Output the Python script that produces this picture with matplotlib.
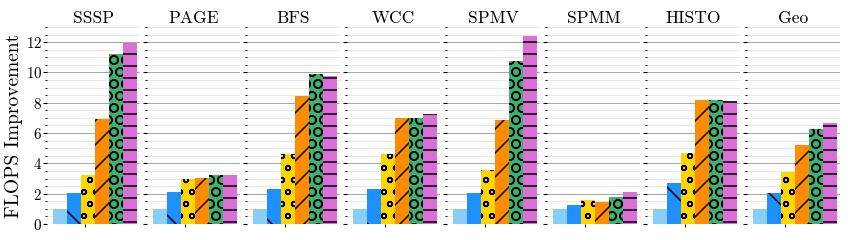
import matplotlib

matplotlib.use("Agg")

import matplotlib.pyplot as plt  # noqa: E402
import numpy as np  # noqa: E402
from matplotlib.ticker import MultipleLocator  # noqa: E402

plt.rcParams["font.family"] = "serif"
plt.rcParams["font.serif"] = ["cmr10", "DejaVu Serif"]
plt.rcParams["mathtext.fontset"] = "cm"
plt.rcParams["axes.formatter.use_mathtext"] = True
plt.rcParams["hatch.linewidth"] = 0.75

# ---------------------------------------------------------------- data
workloads = ["SSSP", "PAGE", "BFS", "WCC", "SPMV", "SPMM", "HISTO", "Geo"]
# six configurations per workload (left to right)
cfg0 = [1.00, 1.00, 1.00, 1.00, 1.00, 1.00, 1.00, 1.00]
cfg1 = [2.03, 2.10, 2.34, 2.30, 2.03, 1.24, 2.72, 2.06]
cfg2 = [3.23, 2.98, 4.64, 4.62, 3.56, 1.57, 4.71, 3.43]
cfg3 = [6.94, 3.03, 8.47, 7.01, 6.88, 1.46, 8.16, 5.19]
cfg4 = [11.25, 3.25, 9.88, 7.01, 10.74, 1.79, 8.16, 6.30]
cfg5 = [11.96, 3.23, 9.77, 7.27, 12.42, 2.12, 8.11, 6.68]
series = [cfg0, cfg1, cfg2, cfg3, cfg4, cfg5]

colors = ["#87CEFA", "#1E90FF", "#FFD700", "#FF8C00", "#3CB371", "#DA70D6"]
hatches = ["", "\\", "oo", "//", "OO", "--"]

# ---------------------------------------------------------------- figure
# dpi 144: hatch cell is 144 px, which gives the sparse hatching of the original
DPI = 144
fig, axes = plt.subplots(1, len(workloads), figsize=(848 / DPI, 240 / DPI),
                         dpi=DPI, sharey=True)
fig.subplots_adjust(left=0.0554, right=0.9906, bottom=0.0667, top=0.8875,
                    wspace=0.075)

w = 0.15
offsets = (np.arange(len(series)) - 1.8) * w

for j, (ax, name) in enumerate(zip(axes, workloads)):
    for i, vals in enumerate(series):
        ax.bar(offsets[i], vals[j], width=w, color=colors[i],
               hatch=hatches[i], edgecolor="black", linewidth=0, zorder=3)
    ax.set_xlim(-2.7 * w, 3.95 * w)
    ax.set_ylim(0, 13)
    ax.set_xticks([0])
    ax.set_xticklabels([""])
    ax.tick_params(axis="x", length=1.5, width=0.5)
    ax.yaxis.set_major_locator(MultipleLocator(2))
    ax.yaxis.set_minor_locator(MultipleLocator(0.5))
    ax.tick_params(axis="y", which="major", length=2, width=0.55,
                   labelsize=7.5, pad=0.5)
    ax.tick_params(axis="y", which="minor", length=1, width=0.45)
    ax.grid(axis="y", which="major", color="#a8a8a8", lw=0.5, zorder=0)
    ax.grid(axis="y", which="minor", color="#e6e6e6", lw=0.45, zorder=0)
    for s in ax.spines.values():
        s.set_visible(False)
    ax.set_title(name, fontsize=8.75, pad=2)

axes[0].set_ylabel("FLOPS Improvement", fontsize=9.75, labelpad=1.5)

fig.savefig("out.png", dpi=DPI)
